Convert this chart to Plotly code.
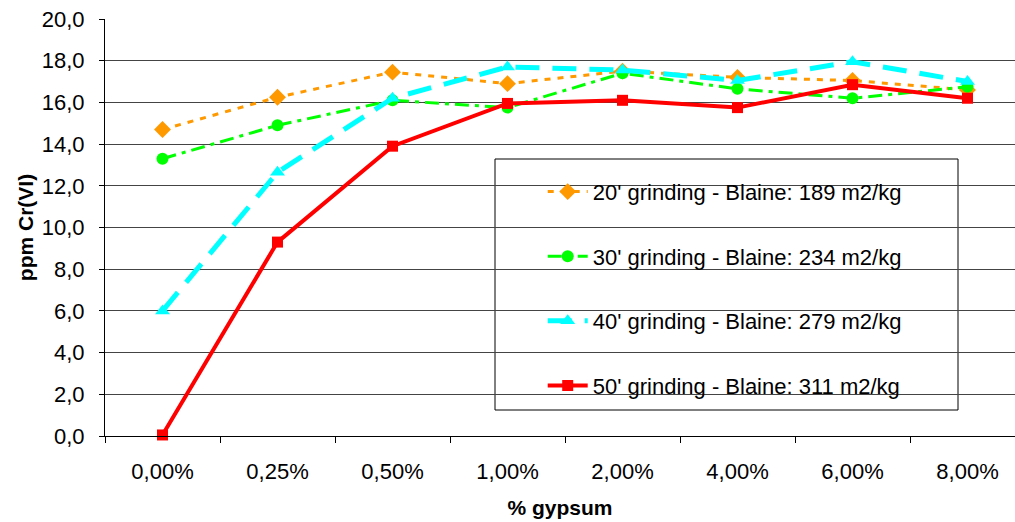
import plotly.graph_objects as go

categories = ["0,00%", "0,25%", "0,50%", "1,00%", "2,00%", "4,00%", "6,00%", "8,00%"]
names = [
    "20' grinding - Blaine: 189 m2/kg",
    "30' grinding - Blaine: 234 m2/kg",
    "40' grinding - Blaine: 279 m2/kg",
    "50' grinding - Blaine: 311 m2/kg",
]
g20 = [14.7, 16.25, 17.45, 16.9, 17.5, 17.2, 17.05, 16.6]
g30 = [13.3, 14.9, 16.1, 15.75, 17.4, 16.65, 16.2, 16.75]
g40 = [6.0, 12.65, 16.2, 17.7, 17.55, 17.05, 17.95, 17.0]
g50 = [0.05, 9.3, 13.9, 15.95, 16.1, 15.75, 16.85, 16.2]

FONT = "Liberation Sans, Arial, sans-serif"

styles = [
    dict(color="#FF9900", dash="6px,7px", width=3, symbol="diamond", size=13),
    dict(color="#00FF00", dash="14px,6px,4px,6px", width=3, symbol="circle", size=12),
    dict(color="#00FFFF", dash="24px,13px", width=5, symbol="triangle-up", size=13),
    dict(color="#FF0000", dash="solid", width=4, symbol="square", size=11),
]

fig = go.Figure()
for i, (nm, ys, st) in enumerate(zip(names, [g20, g30, g40, g50], styles)):
    fig.add_trace(go.Scatter(
        x=categories, y=ys, name=nm, mode="lines+markers",
        legendgroup=f"g{i}",
        line=dict(color=st["color"], dash=st["dash"], width=st["width"]),
        marker=dict(symbol=st["symbol"], size=st["size"], color=st["color"]),
        cliponaxis=False,
    ))

fig.update_layout(
    width=1015, height=522,
    margin=dict(l=105, r=0, t=19, b=86),
    paper_bgcolor="white", plot_bgcolor="white",
    separators=", ",
    font=dict(family=FONT, size=22, color="black"),
    showlegend=True,
    legend=dict(
        x=0.481, y=0.636, xanchor="left", yanchor="top",
        bgcolor="rgba(0,0,0,0)", borderwidth=0,
        font=dict(family=FONT, size=22, color="black"),
        tracegroupgap=33,
        itemwidth=40,
    ),
    shapes=[dict(type="rect", xref="paper", yref="paper",
                 x0=(495 - 105) / 910, x1=(958 - 105) / 910,
                 y0=(436 - 410) / 417, y1=(436 - 159) / 417,
                 line=dict(color="black", width=1), fillcolor="white", layer="below")],
    xaxis=dict(
        type="category", range=[-0.5, -0.5 + 910 / 115],
        showgrid=False, showline=True, linecolor="black", linewidth=1,
        ticks="outside", ticklen=6, tickcolor="black", tickson="boundaries",
        ticklabelstandoff=16,
        tickfont=dict(family=FONT, size=22),
        title=dict(text="<b>% gypsum</b>", font=dict(family=FONT, size=21), standoff=16),
    ),
    yaxis=dict(
        range=[0, 20], dtick=2, tickformat=".1f",
        showgrid=True, gridcolor="#444444", gridwidth=1,
        showline=True, linecolor="black", linewidth=1,
        ticks="outside", ticklen=5, tickcolor="black",
        ticklabelstandoff=10, zeroline=False,
        tickfont=dict(family=FONT, size=22),
        title=dict(text="<b>ppm Cr(VI)</b>", font=dict(family=FONT, size=21), standoff=2),
    ),
)

fig.write_html("out.html")
